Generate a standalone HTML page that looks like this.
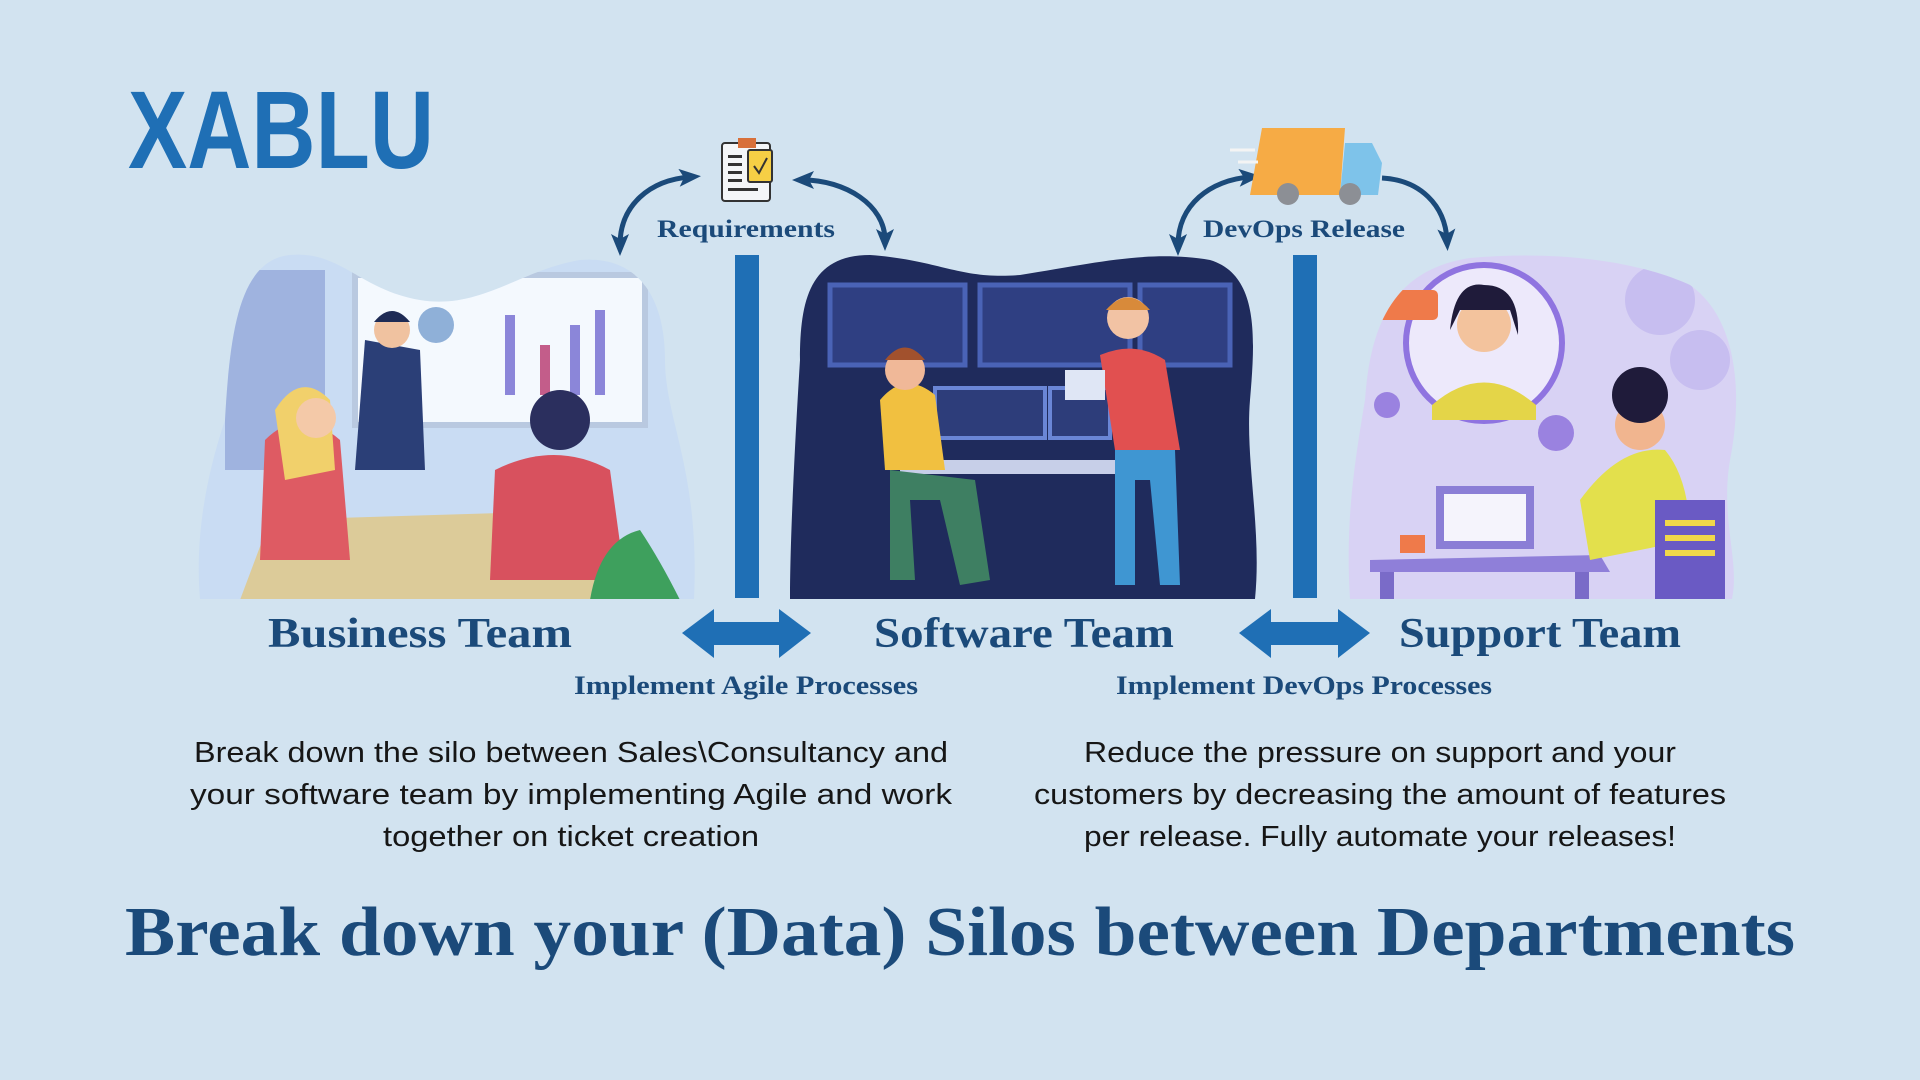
<!DOCTYPE html>
<html><head><meta charset="utf-8"><style>
html,body{margin:0;padding:0;background:#d2e3f0;}
svg{display:block}
.sl{font-family:"Liberation Serif","DejaVu Serif",serif;font-weight:bold;fill:#1b4a7a}
.p{font-family:"Liberation Sans",sans-serif;fill:#161616;font-size:29px}
</style></head><body>
<svg width="1920" height="1080" viewBox="0 0 1920 1080" xmlns="http://www.w3.org/2000/svg">
<defs>
<marker id="ah" markerWidth="22" markerHeight="22" refX="11" refY="11" orient="auto-start-reverse" markerUnits="userSpaceOnUse"><path d="M0,2 L22,11 L0,20 L5,11 z" fill="#1b4a7a"/></marker>
<clipPath id="c1"><path d="M200,599 C195,540 205,480 225,420 C230,330 240,260 290,255 C340,250 360,290 420,300 C480,310 520,270 580,260 C640,255 665,300 665,360 C665,420 700,470 694,599 Z"/></clipPath>
<clipPath id="c2"><path d="M790,599 C790,540 795,440 800,360 C800,300 810,255 870,255 C940,260 960,280 1020,275 C1100,262 1150,250 1210,260 C1260,275 1255,340 1250,400 C1245,460 1262,530 1255,599 Z"/></clipPath>
<clipPath id="c3"><path d="M1350,599 C1345,520 1355,460 1365,400 C1370,330 1390,270 1470,258 C1560,250 1640,262 1690,285 C1740,320 1742,400 1730,460 C1720,520 1740,560 1732,599 Z"/></clipPath>
</defs>
<rect width="1920" height="1080" fill="#d2e3f0"/>
<text x="128" y="168" font-family="Liberation Sans,sans-serif" font-weight="bold" font-size="110" fill="#1f6fb5" textLength="306" lengthAdjust="spacingAndGlyphs">XABLU</text>

<g clip-path="url(#c1)">
<rect x="190" y="250" width="510" height="360" fill="#c9dcf3"/>
<rect x="225" y="270" width="100" height="200" fill="#9fb3df"/>
<rect x="355" y="275" width="290" height="150" fill="#f4f9fe" stroke="#b9c9e0" stroke-width="6"/>
<rect x="505" y="315" width="10" height="80" fill="#8b86d9"/><rect x="540" y="345" width="10" height="50" fill="#c35d8a"/><rect x="570" y="325" width="10" height="70" fill="#8b86d9"/><rect x="595" y="310" width="10" height="85" fill="#8b86d9"/>
<circle cx="436" cy="325" r="18" fill="#8fb0d8"/>
<path d="M240,600 L270,520 L600,510 L650,600 Z" fill="#dccb99"/>
<path d="M365,340 L420,350 L425,470 L355,470 Z" fill="#2b3f77"/>
<circle cx="392" cy="330" r="18" fill="#f0c2a0"/><path d="M374,322 Q392,300 410,322 Z" fill="#1e2b55"/>
<path d="M265,440 Q300,405 340,440 L350,560 L260,560 Z" fill="#de5b63"/>
<path d="M275,410 Q300,370 330,400 L335,470 L285,480 Z" fill="#f1d06b"/>
<circle cx="316" cy="418" r="20" fill="#f4c9a8"/>
<path d="M495,470 Q555,440 610,470 L625,580 L490,580 Z" fill="#d8515e"/>
<circle cx="560" cy="420" r="30" fill="#2b2f5e"/>
<path d="M590,600 Q600,540 640,530 Q660,560 680,600 Z" fill="#3ea05d"/>
</g>

<g clip-path="url(#c2)">
<rect x="780" y="250" width="490" height="360" fill="#1f2b5c"/>
<rect x="830" y="285" width="135" height="80" fill="#2f3f82" stroke="#4a63b6" stroke-width="5"/>
<rect x="980" y="285" width="150" height="80" fill="#2f3f82" stroke="#4a63b6" stroke-width="5"/>
<rect x="1140" y="285" width="90" height="80" fill="#2f3f82" stroke="#4a63b6" stroke-width="5"/>
<rect x="935" y="388" width="110" height="50" fill="#2d3d7a" stroke="#6a86d6" stroke-width="4"/>
<rect x="1050" y="388" width="60" height="50" fill="#2d3d7a" stroke="#6a86d6" stroke-width="4"/>
<rect x="900" y="460" width="220" height="14" fill="#c7cfe8"/>
<path d="M880,400 Q905,370 935,395 L945,470 L885,470 Z" fill="#f1c040"/>
<circle cx="905" cy="370" r="20" fill="#f0b898"/><path d="M885,360 Q905,335 925,360 Z" fill="#a2512d"/>
<path d="M890,470 L975,480 L990,580 L960,585 L940,500 L910,500 L915,580 L890,580 Z" fill="#3e7f62"/>
<path d="M1100,355 Q1135,340 1165,360 L1180,450 L1115,450 Z" fill="#e15050"/>
<circle cx="1128" cy="318" r="21" fill="#f2c3a4"/><path d="M1106,310 Q1128,285 1150,310 Z" fill="#d88a3a"/>
<path d="M1115,450 L1175,450 L1180,585 L1160,585 L1150,480 L1135,480 L1135,585 L1115,585 Z" fill="#3f96d2"/>
<rect x="1065" y="370" width="40" height="30" fill="#dfe6f5"/>
</g>

<g clip-path="url(#c3)">
<rect x="1340" y="250" width="410" height="360" fill="#d8d2f4"/>
<circle cx="1660" cy="300" r="35" fill="#c7bef0"/><circle cx="1700" cy="360" r="30" fill="#c7bef0"/>
<path d="M1370,560 L1600,555 L1610,572 L1370,572 Z" fill="#8f7fd9"/>
<rect x="1380" y="572" width="14" height="30" fill="#7a6bc8"/><rect x="1575" y="572" width="14" height="30" fill="#7a6bc8"/>
<rect x="1440" y="490" width="90" height="55" fill="#f5f4fc" stroke="#8b7ed6" stroke-width="8"/>
<path d="M1580,500 Q1620,445 1665,450 Q1690,480 1690,540 L1590,560 Z" fill="#e3e04c"/>
<circle cx="1640" cy="425" r="25" fill="#f1b58f"/><circle cx="1640" cy="395" r="28" fill="#1f1b3a"/>
<rect x="1655" y="500" width="70" height="100" fill="#6a5ac4"/>
<rect x="1665" y="520" width="50" height="6" fill="#f0d84a"/><rect x="1665" y="535" width="50" height="6" fill="#f0d84a"/><rect x="1665" y="550" width="50" height="6" fill="#f0d84a"/>
<circle cx="1484" cy="343" r="78" fill="#ede9fb" stroke="#8f74e0" stroke-width="6"/>
<path d="M1432,405 Q1484,360 1536,405 L1536,420 L1432,420 Z" fill="#e4d548"/>
<circle cx="1484" cy="325" r="27" fill="#f3c39d"/><path d="M1450,330 Q1455,280 1484,285 Q1520,285 1518,335 L1510,310 L1460,310 Z" fill="#1f1b3a"/>
<rect x="1378" y="290" width="60" height="30" rx="5" fill="#ef7a4a"/>
<circle cx="1556" cy="433" r="18" fill="#9a82e0"/><circle cx="1387" cy="405" r="13" fill="#9a82e0"/>
<rect x="1400" y="535" width="25" height="18" fill="#ef7a4a"/>
</g>

<rect x="735" y="255" width="24" height="343" fill="#1f6fb5"/>
<rect x="1293" y="255" width="24" height="343" fill="#1f6fb5"/>
<path d="M682,633 L714,609 L714,622 L779,622 L779,609 L811,633 L779,658 L779,645 L714,645 L714,658 Z" fill="#1f6fb5"/>
<path d="M1239,633 L1271,609 L1271,622 L1338,622 L1338,609 L1370,633 L1338,658 L1338,645 L1271,645 L1271,658 Z" fill="#1f6fb5"/>
<g fill="none" stroke="#1b4a7a" stroke-width="5">
<path d="M620,245 C620,205 650,180 690,177" marker-start="url(#ah)" marker-end="url(#ah)"/>
<path d="M803,180 C845,180 885,205 885,240" marker-start="url(#ah)" marker-end="url(#ah)"/>
<path d="M1178,245 C1178,205 1210,180 1250,177" marker-start="url(#ah)" marker-end="url(#ah)"/>
<path d="M1382,178 C1420,180 1445,205 1447,240" marker-end="url(#ah)"/>
</g>
<rect x="722" y="143" width="48" height="58" rx="3" fill="#f4f6f8" stroke="#333" stroke-width="2"/>
<rect x="738" y="138" width="18" height="10" fill="#d8703a"/>
<rect x="748" y="150" width="24" height="32" rx="2" fill="#f6cf45" stroke="#333" stroke-width="2"/>
<path d="M754,166 L759,173 L767,158" stroke="#333" stroke-width="2" fill="none"/>
<g fill="#333"><rect x="728" y="155" width="14" height="3"/><rect x="728" y="163" width="14" height="3"/><rect x="728" y="171" width="14" height="3"/><rect x="728" y="179" width="14" height="3"/><rect x="728" y="188" width="30" height="3"/></g>
<path d="M1262,128 L1345,128 L1340,195 L1250,195 Z" fill="#f6ab45"/>
<path d="M1345,143 L1372,143 L1382,163 L1378,195 L1340,195 Z" fill="#7ec3ea"/>
<circle cx="1288" cy="194" r="11" fill="#8c8f95"/><circle cx="1350" cy="194" r="11" fill="#8c8f95"/>
<g stroke="#f4f4f4" stroke-width="3"><line x1="1230" y1="150" x2="1255" y2="150"/><line x1="1238" y1="162" x2="1258" y2="162"/></g>

<text class="sl" x="746" y="237" font-size="25" text-anchor="middle" textLength="178" lengthAdjust="spacingAndGlyphs">Requirements</text>
<text class="sl" x="1304" y="237" font-size="25" text-anchor="middle" textLength="202" lengthAdjust="spacingAndGlyphs">DevOps Release</text>
<text class="sl" x="420" y="647" font-size="42" text-anchor="middle" textLength="304" lengthAdjust="spacingAndGlyphs">Business Team</text>
<text class="sl" x="1024" y="647" font-size="42" text-anchor="middle" textLength="300" lengthAdjust="spacingAndGlyphs">Software Team</text>
<text class="sl" x="1540" y="647" font-size="42" text-anchor="middle" textLength="282" lengthAdjust="spacingAndGlyphs">Support Team</text>
<text class="sl" x="746" y="694" font-size="26" text-anchor="middle" textLength="344" lengthAdjust="spacingAndGlyphs">Implement Agile Processes</text>
<text class="sl" x="1304" y="694" font-size="26" text-anchor="middle" textLength="376" lengthAdjust="spacingAndGlyphs">Implement DevOps Processes</text>

<text class="p" x="571" y="762" text-anchor="middle" textLength="754" lengthAdjust="spacingAndGlyphs">Break down the silo between Sales\Consultancy and</text>
<text class="p" x="571" y="804" text-anchor="middle" textLength="762" lengthAdjust="spacingAndGlyphs">your software team by  implementing Agile and  work</text>
<text class="p" x="571" y="846" text-anchor="middle" textLength="376" lengthAdjust="spacingAndGlyphs">together on ticket creation</text>
<text class="p" x="1380" y="762" text-anchor="middle" textLength="592" lengthAdjust="spacingAndGlyphs">Reduce the pressure on support and your</text>
<text class="p" x="1380" y="804" text-anchor="middle" textLength="692" lengthAdjust="spacingAndGlyphs">customers by decreasing the amount of features</text>
<text class="p" x="1380" y="846" text-anchor="middle" textLength="592" lengthAdjust="spacingAndGlyphs">per release. Fully automate your releases!</text>

<text class="sl" x="960" y="955" font-size="70" text-anchor="middle" textLength="1670" lengthAdjust="spacingAndGlyphs">Break down your (Data) Silos between Departments</text>
</svg>
</body></html>
